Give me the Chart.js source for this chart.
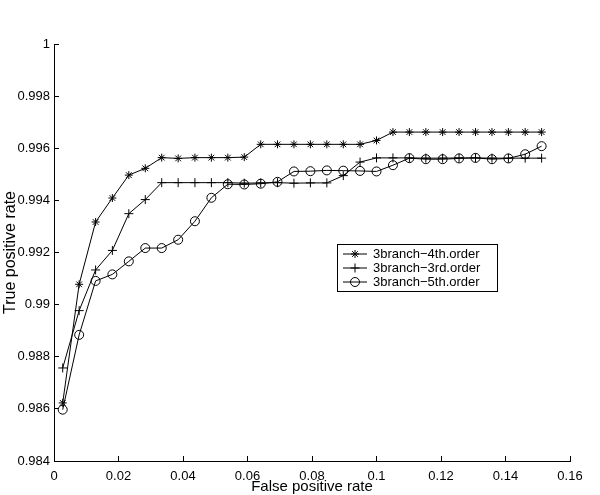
<!DOCTYPE html>
<html><head><meta charset="utf-8">
<script src="https://cdn.jsdelivr.net/npm/chart.js@4/dist/chart.umd.min.js"></script>
<style>html,body{margin:0;padding:0;background:#fff}#wrap{width:600px;height:495px}</style>
</head><body><div id="wrap"><canvas id="c" width="600" height="495"></canvas></div>
<script>
// ---- data ----
const fpRate = [0.0027,0.0078,0.0129,0.0181,0.0232,0.0283,0.0334,0.0385,0.0437,0.0488,
                0.0539,0.0590,0.0641,0.0693,0.0744,0.0795,0.0846,0.0897,0.0949,0.1000,
                0.1051,0.1102,0.1153,0.1205,0.1256,0.1307,0.1358,0.1409,0.1461,0.1512];
const tp4th = [0.98623,0.99078,0.99317,0.99409,0.99497,0.99523,0.99564,0.99561,0.99564,0.99564,
               0.99564,0.99566,0.99615,0.99615,0.99615,0.99615,0.99615,0.99615,0.99615,0.99630,
               0.99662,0.99662,0.99662,0.99662,0.99662,0.99662,0.99662,0.99662,0.99662,0.99662];
const tp3rd = [0.98757,0.98977,0.99133,0.99208,0.99349,0.99403,0.99468,0.99468,0.99468,0.99468,
               0.99468,0.99466,0.99467,0.99468,0.99466,0.99467,0.99467,0.99495,0.99547,0.99563,
               0.99563,0.99563,0.99562,0.99562,0.99563,0.99563,0.99562,0.99562,0.99562,0.99562];
const tp5th = [0.98597,0.98884,0.99091,0.99116,0.99166,0.99217,0.99217,0.99249,0.99320,0.99410,
               0.99462,0.99461,0.99464,0.99471,0.99511,0.99512,0.99515,0.99514,0.99513,0.99511,
               0.99535,0.99562,0.99558,0.99558,0.99561,0.99563,0.99558,0.99561,0.99577,0.99608];
const seriesLabels = ['3branch\u22124th.order','3branch\u22123rd.order','3branch\u22125th.order'];
const seriesMarkers = ['star','cross','circle'];
const xTicks = [0,0.02,0.04,0.06,0.08,0.1,0.12,0.14,0.16];
const yTicks = [0.984,0.986,0.988,0.99,0.992,0.994,0.996,0.998,1];
const xTitle = 'False positive rate';
const yTitle = 'True positive rate';

// ---- chart ----
const FONT = "'Liberation Sans', Arial, Helvetica, sans-serif";
Chart.defaults.font.family = FONT;
Chart.defaults.color = '#000';

const seriesValues = [tp4th, tp3rd, tp5th];
const datasets = seriesValues.map((vals, i) => ({
  label: seriesLabels[i],
  data: vals.map((v, k) => ({x: fpRate[k], y: v})),
  borderColor: '#000',
  borderWidth: 1,
  pointStyle: seriesMarkers[i],
  pointRadius: seriesMarkers[i] === 'circle' ? 4.5 : (seriesMarkers[i] === 'cross' ? 4.5 : 4),
  pointBorderColor: '#000',
  pointBackgroundColor: 'rgba(0,0,0,0)',
  pointBorderWidth: 1,
  tension: 0,
  fill: false
}));

const boxLegend = {
  id: 'boxLegend',
  afterDraw(chart) {
    const ctx = chart.ctx;
    const x0 = 337, y0 = 244, w = 160, h = 47;
    ctx.save();
    ctx.fillStyle = '#fff';
    ctx.fillRect(x0, y0, w, h);
    ctx.strokeStyle = '#000';
    ctx.lineWidth = 1;
    ctx.strokeRect(x0 + 0.5, y0 + 0.5, w, h);
    ctx.font = '13px ' + FONT;
    ctx.textBaseline = 'middle';
    ctx.textAlign = 'left';
    chart.data.datasets.forEach((ds, i) => {
      const y = y0 + 10 + i * 14;
      ctx.strokeStyle = '#000';
      ctx.lineWidth = 1;
      ctx.beginPath();
      ctx.moveTo(x0 + 6, y);
      ctx.lineTo(x0 + 30, y);
      ctx.stroke();
      ctx.fillStyle = 'rgba(0,0,0,0)';
      Chart.helpers.drawPoint(ctx, {pointStyle: ds.pointStyle, radius: ds.pointRadius, borderWidth: 1, rotation: 0}, x0 + 18, y);
      ctx.fillStyle = '#000';
      ctx.fillText(ds.label, x0 + 36, y + 0.5);
    });
    ctx.restore();
  }
};

new Chart(document.getElementById('c'), {
  type: 'line',
  data: {datasets},
  options: {
    responsive: false,
    animation: false,
    devicePixelRatio: 1,
    layout: {padding: {top: 44, right: 30, bottom: 0, left: 0}},
    plugins: {legend: {display: false}, tooltip: {enabled: false}},
    scales: {
      x: {
        type: 'linear', min: 0, max: 0.16,
        afterBuildTicks: s => { s.ticks = xTicks.map(v => ({value: v})); },
        afterFit: s => { s.height = 34; },
        grid: {drawOnChartArea: false, tickLength: -5, color: '#000', tickWidth: 1},
        border: {color: '#000', width: 1},
        ticks: {padding: 13, autoSkip: false, maxRotation: 0, color: '#000', font: {size: 13},
                callback: v => Number(v.toFixed(2)).toString()},
        title: {display: true, text: xTitle, color: '#000', font: {size: 15, lineHeight: 1}, padding: {top: 0, bottom: 1}}
      },
      y: {
        type: 'linear', min: 0.984, max: 1,
        afterBuildTicks: s => { s.ticks = yTicks.map(v => ({value: v})); },
        afterFit: s => { s.width = 54; },
        grid: {drawOnChartArea: false, tickLength: -5, color: '#000', tickWidth: 1},
        border: {color: '#000', width: 1},
        ticks: {padding: 9, autoSkip: false, color: '#000', font: {size: 13},
                callback: v => Number(v.toFixed(3)).toString()},
        title: {display: true, text: yTitle, color: '#000', font: {size: 16, lineHeight: 1}, padding: {top: 3, bottom: 0}}
      }
    }
  },
  plugins: [boxLegend]
});
</script></body></html>
